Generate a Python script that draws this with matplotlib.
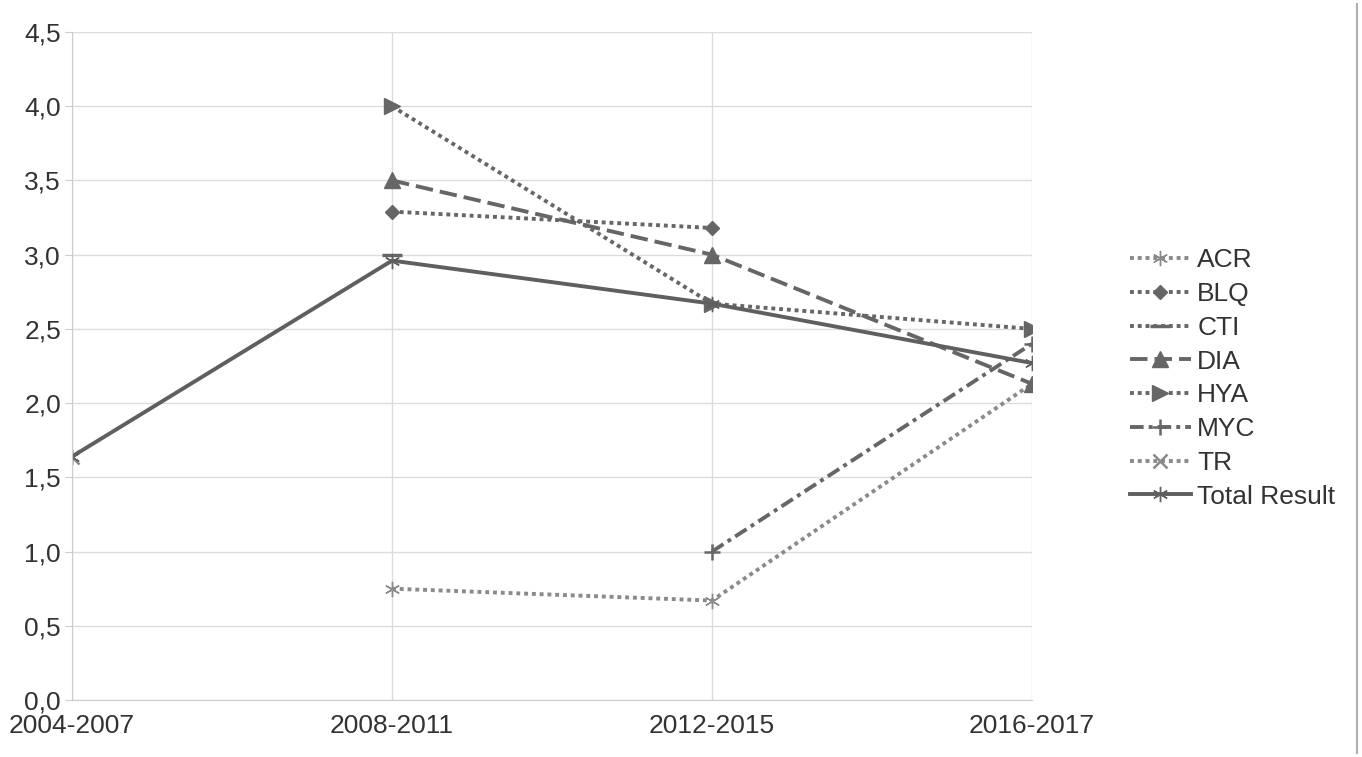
import numpy as np
import matplotlib
matplotlib.use("Agg")
import matplotlib.pyplot as plt
from matplotlib.ticker import FuncFormatter, MultipleLocator
from matplotlib.lines import Line2D

plt.rcParams['font.family'] = ['Liberation Sans', 'DejaVu Sans']

# ---- data ----
periods = ["2004-2007", "2008-2011", "2012-2015", "2016-2017"]
nan = np.nan
acr = [nan, 0.75, 0.67, 2.13]
blq = [nan, 3.29, 3.18, nan]
cti = [nan, 3.00, nan, nan]
dia = [nan, 3.50, 3.00, 2.13]
hya = [nan, 4.00, 2.67, 2.50]
myc = [nan, nan, 1.00, 2.40]
tr = [1.64, nan, nan, nan]
total = [1.64, 2.96, 2.67, 2.27]

series = [
    ("ACR", acr, dict(ls=(0, (1, 1)), marker=(6, 2, 0), ms=11, color='#8a8a8a')),
    ("BLQ", blq, dict(ls=(0, (1, 1)), marker='D', ms=7, color='#666666')),
    ("CTI", cti, dict(ls=(0, (1, 1)), marker='_', ms=14, mew=2.5, color='#666666')),
    ("DIA", dia, dict(ls=(0, (4.5, 1.8)), marker='^', ms=11, color='#666666')),
    ("HYA", hya, dict(ls=(0, (1, 1)), marker='>', ms=11, color='#666666')),
    ("MYC", myc, dict(ls=(0, (3.5, 1.3, 1, 1.3)), marker='+', ms=12, mew=1.8, color='#666666')),
    ("TR", tr, dict(ls=(0, (1, 1)), marker='x', ms=10, mew=1.8, color='#8a8a8a')),
    ("Total Result", total, dict(ls='-', marker=(6, 2, 0), ms=11, color='#5f5f5f')),
]

fig = plt.figure(figsize=(13.62, 7.57), dpi=100)
ax = fig.add_axes([72 / 1362, 57 / 757, 960 / 1362, 668 / 757])

x = np.arange(len(periods))
for name, vals, st in series:
    ax.plot(x, vals, lw=2.8, label=name, **st)

ax.set_xlim(0, len(periods) - 1)
ax.set_ylim(0, 4.5)
ax.set_xticks(x)
ax.set_xticklabels(periods)
ax.yaxis.set_major_locator(MultipleLocator(0.5))
ax.yaxis.set_major_formatter(FuncFormatter(lambda v, p: f"{v:.1f}".replace(".", ",")))

ax.grid(True, color='#dcdcdc', lw=1)
ax.set_axisbelow(True)
for s in ['top', 'right']:
    ax.spines[s].set_visible(False)
for s in ['left', 'bottom']:
    ax.spines[s].set_color('#cccccc')
ax.tick_params(axis='y', length=5, color='#cccccc', labelsize=19, labelcolor='#333333', pad=3)
ax.tick_params(axis='x', length=0, labelsize=19, labelcolor='#333333', pad=10)
# nudge the lowest y label up a little so it clears the first category label
ax.get_yticklabels()[0].set_verticalalignment('bottom')

leg = fig.legend(loc='center left', bbox_to_anchor=(1130 / 1362, 0.5), frameon=False,
                 fontsize=19, handlelength=2.3, handletextpad=0.25, labelspacing=0.37,
                 borderpad=0, borderaxespad=0)
for t in leg.get_texts():
    t.set_color('#333333')

fig.add_artist(Line2D([1357 / 1362, 1357 / 1362], [0.005, 0.995], transform=fig.transFigure,
                      color='#b0b0b0', lw=1.5))

fig.savefig("out.png", dpi=100)
